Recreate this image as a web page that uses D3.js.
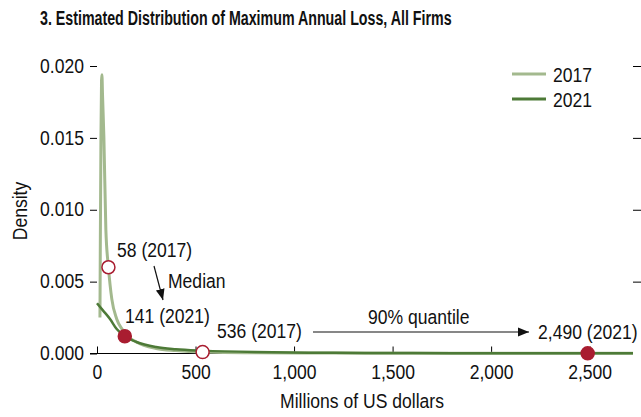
<!DOCTYPE html>
<html>
<head>
<meta charset="utf-8">
<style>
  body { margin: 0; background: #fff; }
  svg { display: block; }
  text { font-family: "Liberation Sans", Arial, sans-serif; fill: #111; }
</style>
</head>
<body>
<svg width="641" height="417"></svg>
<script src="https://d3js.org/d3.v7.min.js"></script>
<script>
// values: loss in millions of US dollars, density
var loss2017 = [15, 17, 20, 23, 25, 28, 35, 45, 58, 75, 100, 132, 141, 200, 300, 400, 536, 800, 1200, 1600, 2000, 2720];
var dens2017 = [0.0025, 0.008, 0.015, 0.019, 0.0194, 0.018, 0.015, 0.0086, 0.006, 0.0038, 0.0024, 0.0016, 0.0014, 0.0008, 0.00035, 0.0002, 0.0001, 0.00005, 0.00003, 0.00002, 0.000015, 0.00001];
var loss2021 = [0, 30, 66, 100, 141, 200, 300, 400, 536, 800, 1200, 1600, 2000, 2490, 2720];
var dens2021 = [0.0035, 0.003, 0.0024, 0.0017, 0.0012, 0.0008, 0.00045, 0.0003, 0.0002, 0.0001, 0.00005, 0.00003, 0.00002, 0.000012, 0.00001];
// medians and 90% quantiles
var markers = [
  {year: "2017", value: 58, dens: 0.006, filled: false},
  {year: "2021", value: 141, dens: 0.0012, filled: true},
  {year: "2017", value: 536, dens: 0.0001, filled: false},
  {year: "2021", value: 2490, dens: 0.00001, filled: true}
];
var xTicks = [0, 500, 1000, 1500, 2000, 2500];
var yTicks = [0, 0.005, 0.010, 0.015, 0.020];

var light = "#a3b98e", dark = "#4d7a37", red = "#a91d30";
var K = 0.9;   // squeeze text to look like a condensed face
var FS = "19.5px";

var svg = d3.select("svg");
var x = d3.scaleLinear().domain([0, 2720]).range([97, 633]);
var y = d3.scaleLinear().domain([0, 0.02]).range([353.5, 66]);

function squeeze(sel) {
  sel.each(function() {
    var t = d3.select(this);
    var tx = +t.attr("x") || 0, ty = +t.attr("y") || 0;
    t.attr("x", 0).attr("y", 0).attr("transform", "translate(" + tx + "," + ty + ") scale(" + K + ",1)");
  });
}
function label(tx, ty, s, anchor) {
  return svg.append("text").attr("transform", "translate(" + tx + "," + ty + ") scale(" + K + ",1)")
    .attr("dy", "0.35em").attr("text-anchor", anchor || "start")
    .style("font-size", FS).text(s);
}

svg.append("text").attr("transform", "translate(40,25) scale(0.73,1)")
  .style("font-size", "19.5px").style("font-weight", "bold")
  .text("3. Estimated Distribution of Maximum Annual Loss, All Firms");

// y axis left, ticks only
var ya = svg.append("g").attr("transform", "translate(97,0)")
  .call(d3.axisLeft(y).tickValues(yTicks).tickFormat(d3.format(".3f")).tickSize(7).tickPadding(6));
ya.select(".domain").remove();
ya.selectAll("text").style("font-size", FS).style("font-family", null).call(squeeze);
// right ticks
var yr = svg.append("g").attr("transform", "translate(633,0)")
  .call(d3.axisRight(y).tickValues(yTicks.slice(1)).tickFormat("").tickSize(8));
yr.select(".domain").remove();

var xa = svg.append("g").attr("transform", "translate(0,353.5)")
  .call(d3.axisBottom(x).tickValues(xTicks).tickFormat(d3.format(",")).tickSize(-7).tickPadding(12));
xa.select(".domain").attr("d", "M90,0H633");
xa.selectAll("text").style("font-size", FS).style("font-family", null).call(squeeze);

svg.append("text").attr("transform", "translate(27,211) rotate(-90) scale(" + K + ",1)")
  .attr("text-anchor", "middle").style("font-size", FS).text("Density");
svg.append("text").attr("transform", "translate(362,408) scale(" + K + ",1)")
  .attr("text-anchor", "middle").style("font-size", FS).text("Millions of US dollars");

var line = d3.line().x(function(d) { return x(d[0]); }).y(function(d) { return y(d[1]); })
  .curve(d3.curveMonotoneX);
svg.append("path").datum(d3.zip(loss2017, dens2017)).attr("d", line)
  .attr("fill", "none").attr("stroke", light).attr("stroke-width", 3);
svg.append("path").datum(d3.zip(loss2021, dens2021)).attr("d", line)
  .attr("fill", "none").attr("stroke", dark).attr("stroke-width", 2.5);

svg.selectAll("circle.m").data(markers).enter().append("circle")
  .attr("cx", function(d) { return x(d.value); })
  .attr("cy", function(d) { return y(d.dens); })
  .attr("r", 6.5)
  .attr("fill", function(d) { return d.filled ? red : "#fff"; })
  .attr("stroke", red).attr("stroke-width", 1.5);

// legend
var legend = [{k: "2017", c: light}, {k: "2021", c: dark}];
legend.forEach(function(l, i) {
  svg.append("line").attr("x1", 512).attr("x2", 546).attr("y1", 74 + i * 25).attr("y2", 74 + i * 25)
    .attr("stroke", l.c).attr("stroke-width", 3);
  label(553, 75 + i * 25, l.k);
});

// annotations
svg.append("defs").append("marker").attr("id", "ah").attr("viewBox", "0 0 10 10")
  .attr("refX", 10).attr("refY", 5).attr("markerWidth", 11).attr("markerHeight", 11)
  .attr("markerUnits", "userSpaceOnUse").attr("orient", "auto")
  .append("path").attr("d", "M0,1L10,5L0,9Z").attr("fill", "#111");

label(117, 250, "58 (2017)");
label(168, 281, "Median");
label(125, 316, "141 (2021)");
label(217, 331, "536 (2017)");
label(368, 317, "90% quantile");
label(538, 332, "2,490 (2021)");

svg.append("line").attr("x1", 154).attr("y1", 266).attr("x2", 163).attr("y2", 300)
  .attr("stroke", "#111").attr("stroke-width", 1.2).attr("marker-end", "url(#ah)");
svg.append("line").attr("x1", 313).attr("y1", 332).attr("x2", 529).attr("y2", 332)
  .attr("stroke", "#111").attr("stroke-width", 1.2).attr("marker-end", "url(#ah)");
</script>
</body>
</html>
